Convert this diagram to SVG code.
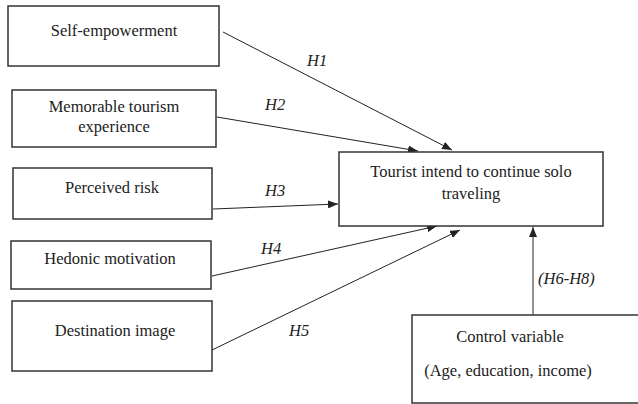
<svg xmlns="http://www.w3.org/2000/svg" width="638" height="404" viewBox="0 0 638 404">
<style>
.box{fill:#fff;stroke:#333;stroke-width:1.5}
.t{font-family:"Liberation Serif","Times New Roman",serif;font-size:16.5px;fill:#222;text-anchor:middle}
.h{font-family:"Liberation Serif","Times New Roman",serif;font-size:16.5px;font-style:italic;fill:#222}
.c{stroke:#222;stroke-width:1;fill:none;marker-end:url(#ah)}
</style>
<defs>
<marker id="ah" viewBox="0 0 10 8" refX="10" refY="4" markerWidth="10" markerHeight="8" markerUnits="userSpaceOnUse" orient="auto">
<path d="M0,0 L10,4 L0,8 Z" fill="#222"/>
</marker>
</defs>
<rect width="638" height="404" fill="#fff"/>
<g id="connectors">
<line class="c" x1="223" y1="32" x2="452" y2="150"/>
<line class="c" x1="217" y1="117" x2="418" y2="151"/>
<line class="c" x1="213" y1="209" x2="338" y2="204"/>
<line class="c" x1="212" y1="276" x2="437" y2="226"/>
<line class="c" x1="212" y1="350" x2="460" y2="230"/>
<line class="c" x1="533" y1="315" x2="533" y2="227"/>
<text class="h" x="307" y="66">H1</text>
<text class="h" x="265" y="110">H2</text>
<text class="h" x="265" y="196">H3</text>
<text class="h" x="261" y="254">H4</text>
<text class="h" x="289" y="336">H5</text>
<text class="h" x="538" y="284">(H6-H8)</text>
</g>
<g id="self-empowerment">
<rect class="box" x="8" y="6" width="211" height="60"/>
<text class="t" x="114" y="36">Self-empowerment</text>
</g>
<g id="memorable">
<rect class="box" x="12" y="90" width="204" height="57"/>
<text class="t" x="114" y="112">Memorable tourism</text>
<text class="t" x="114" y="132">experience</text>
</g>
<g id="perceived-risk">
<rect class="box" x="13" y="168" width="199" height="51"/>
<text class="t" x="112" y="193">Perceived risk</text>
</g>
<g id="hedonic">
<rect class="box" x="11" y="241" width="200" height="48"/>
<text class="t" x="110" y="264">Hedonic motivation</text>
</g>
<g id="destination">
<rect class="box" x="12" y="301" width="200" height="70"/>
<text class="t" x="115" y="336">Destination image</text>
</g>
<g id="intention">
<rect class="box" x="339" y="152" width="264" height="74"/>
<text class="t" x="471" y="177">Tourist intend to continue solo</text>
<text class="t" x="471" y="199">traveling</text>
</g>
<g id="control">
<rect class="box" x="412" y="315" width="240" height="88"/>
<text class="t" x="510" y="342">Control variable</text>
<text class="t" x="508" y="376">(Age, education, income)</text>
</g>
</svg>
